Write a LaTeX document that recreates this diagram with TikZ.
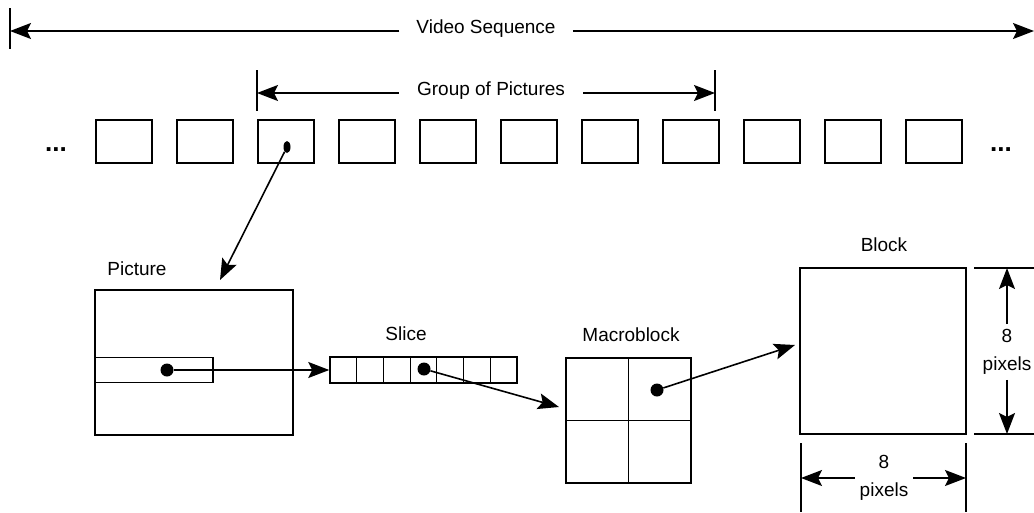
\documentclass[tikz,border=0pt]{standalone}
\usepackage{fontspec}
\setmainfont{Liberation Sans}
\usetikzlibrary{arrows.meta,shapes.geometric}
\begin{document}
\begin{tikzpicture}[x=1pt,y=-1pt,
  ln/.style={line width=1.5pt},
  arr/.style={line width=1.6pt,-{Stealth[length=21pt,width=16pt,inset=4pt]}},
  frame/.style={draw,line width=1.5pt,minimum width=56pt,minimum height=43pt,inner sep=0pt},
  lbl/.style={font=\fontsize{19}{29}\selectfont,inner sep=0pt},
  dimlbl/.style={font=\fontsize{19}{28}\selectfont,align=center,inner xsep=5pt,inner ysep=5pt},
  bigdot/.style={circle,fill,inner sep=0pt,minimum size=13pt},
  rect/.style={draw,line width=1.5pt,inner sep=0pt}]
\useasboundingbox (0,0) rectangle (1034,512);

% Video sequence
\node[lbl,inner xsep=17pt] (vs) at (486,29) {Video Sequence};
\coordinate (vsL) at (10,31);
\coordinate (vsR) at (1034,31);
\draw[ln] (10,8) -- (10,49);
\draw[arr] (vs.west |- vsL) -- (vsL);
\draw[arr] (vs.east |- vsR) -- (vsR);

% Group of pictures
\node[lbl,inner xsep=18pt] (gop) at (491,91) {Group of Pictures};
\coordinate (gopL) at (257,93);
\coordinate (gopR) at (715,93);
\draw[ln] (257,70) -- (257,111);
\draw[ln] (715,70) -- (715,111);
\draw[arr] (gop.west |- gopL) -- (gopL);
\draw[arr] (gop.east |- gopR) -- (gopR);

% Frames
\foreach \i in {0,...,10}{
  \node[frame] (f\i) at ({124+81*\i},141.5) {};
}
\node[font=\fontsize{26}{26}\selectfont\bfseries,inner sep=0pt] (dl) at (56,150) {...};
\node[font=\fontsize{26}{26}\selectfont\bfseries,inner sep=0pt] (dr) at (1001,150) {...};

\node[ellipse,fill,inner sep=0pt,minimum width=7pt,minimum height=12pt] (fd) at (287,147) {};
\coordinate (picTop) at (220,280);
\draw[arr] (fd) -- (picTop);

% Picture
\node[lbl] (picL) at (137,269) {Picture};
\node[rect,minimum width=198pt,minimum height=145pt] (pic) at (194,362.5) {};
\node[draw,line width=1.1pt,inner sep=0pt,minimum width=118pt,minimum height=25pt] (strip) at (154,370) {};
\node[bigdot] (pd) at (167,370) {};

% Slice
\node[lbl] (sliceL) at (406,334) {Slice};
\node[rect,minimum width=187pt,minimum height=26pt] (slice) at (423.5,370) {};
\foreach \k in {1,...,6}{
  \draw[line width=1.2pt] ({330+26.714*\k},357) -- ({330+26.714*\k},383);
}
\node[bigdot] (sd) at (424,369) {};
\draw[arr] (pd) -- (slice.west);

% Macroblock
\node[lbl] (mbL) at (631,335) {Macroblock};
\node[rect,minimum width=125pt,minimum height=125pt] (mb) at (628.5,420.5) {};
\draw[ln] (mb.north) -- (mb.south);
\draw[ln] (mb.west) -- (mb.east);
\coordinate (mbIn) at (559,407);
\draw[arr] (sd) -- (mbIn);
\node[bigdot] (md) at (657,390) {};

% Block
\node[lbl] (blkL) at (884,245) {Block};
\node[rect,minimum width=166pt,minimum height=166pt] (blk) at (883,351) {};
\coordinate (blkIn) at (795,345);
\draw[arr] (md) -- (blkIn);

% right dimension
\draw[ln] (974,268) -- (1034,268);
\draw[ln] (974,434) -- (1034,434);
\node[dimlbl] (rdim) at (1007,352) {8\\pixels};
\coordinate (rT) at (1007,268);
\coordinate (rB) at (1007,434);
\draw[arr] (rdim.north) -- (rT);
\draw[arr] (rdim.south) -- (rB);

% bottom dimension
\draw[ln] (801,443) -- (801,512);
\draw[ln] (966,443) -- (966,512);
\node[dimlbl] (bdim) at (884,478) {8\\pixels};
\coordinate (bL) at (801,478);
\coordinate (bR) at (966,478);
\draw[arr] (bdim.west) -- (bL);
\draw[arr] (bdim.east) -- (bR);
\end{tikzpicture}
\end{document}
